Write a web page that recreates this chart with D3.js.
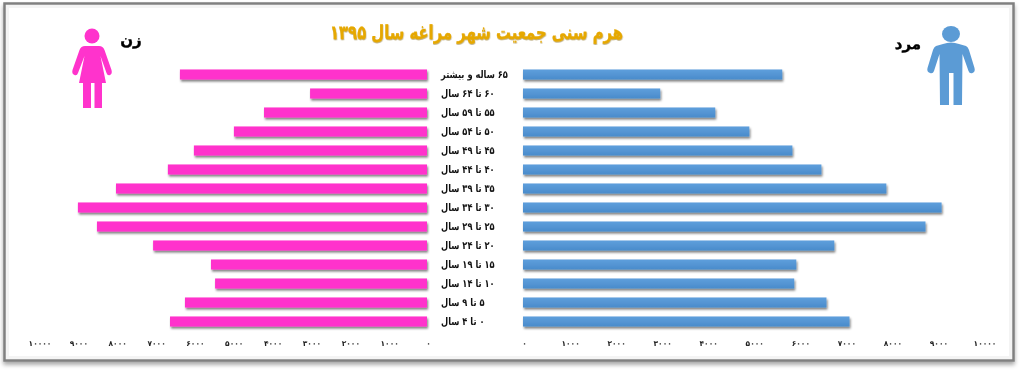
<!DOCTYPE html>
<html lang="fa">
<head>
<meta charset="utf-8">
<script src="https://cdn.jsdelivr.net/npm/d3@7"></script>
<style>
    html, body { margin: 0; padding: 0; background: #fff; }
    svg { display: block; filter: blur(0.35px); }
    text { font-family: "DejaVu Sans", sans-serif; text-rendering: geometricPrecision; }
</style>
</head>
<body>
<div id="chart"></div>
<script>
const ageGroups = ["۶۵ ساله و بیشتر", "۶۰ تا ۶۴ سال", "۵۵ تا ۵۹ سال", "۵۰ تا ۵۴ سال", "۴۵ تا ۴۹ سال",
    "۴۰ تا ۴۴ سال", "۳۵ تا ۳۹ سال", "۳۰ تا ۳۴ سال", "۲۵ تا ۲۹ سال", "۲۰ تا ۲۴ سال",
    "۱۵ تا ۱۹ سال", "۱۰ تا ۱۴ سال", "۵ تا ۹ سال", "۰ تا ۴ سال"];
const maleValues = [5630, 2980, 4175, 4915, 5850, 6480, 7890, 9090, 8740, 6760, 5935, 5890, 6590, 7090];
const femaleValues = [6360, 3010, 4195, 4970, 6000, 6670, 8005, 8985, 8495, 7050, 5560, 5455, 6230, 6615];
const axisTicks = [0, 1000, 2000, 3000, 4000, 5000, 6000, 7000, 8000, 9000, 10000];

const chartTitle = "هرم سنی جمعیت شهر مراغه سال ۱۳۹۵";
const maleLabel = "مرد";
const femaleLabel = "زن";

const width = 1024, height = 371;

const faDigits = n => String(n).replace(/\d/g, d => "۰۱۲۳۴۵۶۷۸۹"[d]);

const svg = d3.select("#chart").append("svg")
    .attr("width", width)
    .attr("height", height);

const defs = svg.append("defs");

const barShadow = defs.append("filter").attr("id", "barShadow")
    .attr("x", "-5%").attr("y", "-40%").attr("width", "110%").attr("height", "200%");
barShadow.append("feDropShadow")
    .attr("dx", 1).attr("dy", 2).attr("stdDeviation", 1.2)
    .attr("flood-color", "#000").attr("flood-opacity", 0.5);

const titleShadow = defs.append("filter").attr("id", "titleShadow");
titleShadow.append("feDropShadow")
    .attr("dx", 0.5).attr("dy", 1).attr("stdDeviation", 0.6)
    .attr("flood-color", "#7a5a00").attr("flood-opacity", 0.5);

const frameShadow = defs.append("filter").attr("id", "frameShadow")
    .attr("x", "-2%").attr("y", "-5%").attr("width", "104%").attr("height", "110%");
frameShadow.append("feDropShadow")
    .attr("dx", 0).attr("dy", 3).attr("stdDeviation", 2)
    .attr("flood-color", "#000").attr("flood-opacity", 0.35);

const blueGrad = defs.append("linearGradient").attr("id", "blueGrad")
    .attr("x1", 0).attr("y1", 0).attr("x2", 0).attr("y2", 1);
blueGrad.append("stop").attr("offset", "0%").attr("stop-color", "#5e9fdc");
blueGrad.append("stop").attr("offset", "100%").attr("stop-color", "#4a8bcb");

// frame
svg.append("rect")
    .attr("x", 4.5).attr("y", 3.5)
    .attr("width", 1009).attr("height", 357)
    .attr("fill", "#fff")
    .attr("stroke", "#808080")
    .attr("stroke-width", 2.5)
    .attr("filter", "url(#frameShadow)");
svg.append("rect")
    .attr("x", 7.5).attr("y", 6.5)
    .attr("width", 1003).attr("height", 351)
    .attr("fill", "none")
    .attr("stroke", "#f4f4f4")
    .attr("stroke-width", 3);

// scales
const yScale = d3.scaleBand()
    .domain(ageGroups)
    .range([65, 331])
    .paddingInner(0.47)
    .paddingOuter(0.235);

const xMale = d3.scaleLinear().domain([0, 10000]).range([523, 983.5]);
const xFemale = d3.scaleLinear().domain([0, 10000]).range([427, 38.5]);

// bars
svg.append("g").selectAll("rect")
    .data(maleValues)
    .join("rect")
    .attr("x", xMale(0))
    .attr("y", (d, i) => yScale(ageGroups[i]))
    .attr("width", d => xMale(d) - xMale(0))
    .attr("height", yScale.bandwidth())
    .attr("fill", "url(#blueGrad)")
    .attr("filter", "url(#barShadow)");

svg.append("g").selectAll("rect")
    .data(femaleValues)
    .join("rect")
    .attr("x", d => xFemale(d))
    .attr("y", (d, i) => yScale(ageGroups[i]))
    .attr("width", d => xFemale(0) - xFemale(d))
    .attr("height", yScale.bandwidth())
    .attr("fill", "#ff33cc")
    .attr("filter", "url(#barShadow)");

// category labels, squeezed sideways since the original font is narrower
const yAxis = svg.append("g")
    .attr("transform", "translate(441,0)")
    .call(d3.axisRight(yScale).tickSize(0).tickPadding(0));
yAxis.select(".domain").remove();
yAxis.selectAll("text")
    .attr("direction", "rtl")
    .attr("transform", "scale(0.79,1)")
    .style("text-anchor", "end")
    .style("font-size", "10.5px")
    .style("font-weight", "bold")
    .attr("fill", "#111");

// value axes
function drawValueAxis(scale) {
    const g = svg.append("g")
        .attr("transform", "translate(1,341)")
        .call(d3.axisBottom(scale).tickValues(axisTicks).tickFormat(faDigits).tickSize(0).tickPadding(0));
    g.select(".domain").remove();
    g.selectAll("text")
        .style("font-size", "7.5px")
        .style("font-weight", "bold")
        .style("letter-spacing", "2.2px")
        .attr("fill", "#222");
}
drawValueAxis(xMale);
drawValueAxis(xFemale);

// title
svg.append("text")
    .attr("transform", "translate(476.5,38.5) scale(0.76,1)")
    .attr("text-anchor", "middle")
    .attr("direction", "rtl")
    .attr("fill", "#e6a800")
    .attr("stroke", "#e6a800")
    .attr("stroke-width", 0.3)
    .attr("filter", "url(#titleShadow)")
    .style("font-size", "19.5px")
    .style("font-weight", "bold")
    .text(chartTitle);

svg.append("text")
    .attr("x", 908).attr("y", 49)
    .attr("text-anchor", "middle")
    .attr("direction", "rtl")
    .attr("fill", "#000")
    .attr("stroke", "#000")
    .attr("stroke-width", 0.4)
    .style("font-size", "15px")
    .style("font-weight", "bold")
    .text(maleLabel);

svg.append("text")
    .attr("x", 131).attr("y", 45)
    .attr("text-anchor", "middle")
    .attr("direction", "rtl")
    .attr("fill", "#000")
    .attr("stroke", "#000")
    .attr("stroke-width", 0.4)
    .style("font-size", "15px")
    .style("font-weight", "bold")
    .text(femaleLabel);

// person icons
const femaleIcon = svg.append("g").attr("fill", "#ff33cc");
femaleIcon.append("circle").attr("cx", 92).attr("cy", 36).attr("r", 7.5);
femaleIcon.append("path")
    .attr("d", "M85 46 L99 46 Q103 46 104.5 50 L111.5 70 Q112.5 74 110 75 Q107.5 76 106.5 73 L100.5 56 L106 83 L102 83 L102 108 L94.5 108 L94.5 83 L91 83 L91 108 L83 108 L83 83 L79 83 L84.5 56 L78 73 Q77 76 74.5 75 Q71.5 74 72.5 70 L79.5 50 Q81 46 85 46 Z");

const maleIcon = svg.append("g").attr("fill", "#5b9bd5");
maleIcon.append("ellipse").attr("cx", 951).attr("cy", 34).attr("rx", 9).attr("ry", 8);
maleIcon.append("path")
    .attr("d", "M943 44 Q951 41 959 44 L966 46 Q968 47 969 50 L974.5 68 Q975.5 72 972.5 73 Q969.5 74 968.5 71 L962.5 54 L962 105 L953.5 105 L953.5 73 L949 73 L949 105 L940 105 L939.5 54 L934 71 Q933 74 930 73 Q926.5 72 927.5 68 L933 50 Q934 47 936 46 Z");
</script>
</body>
</html>
